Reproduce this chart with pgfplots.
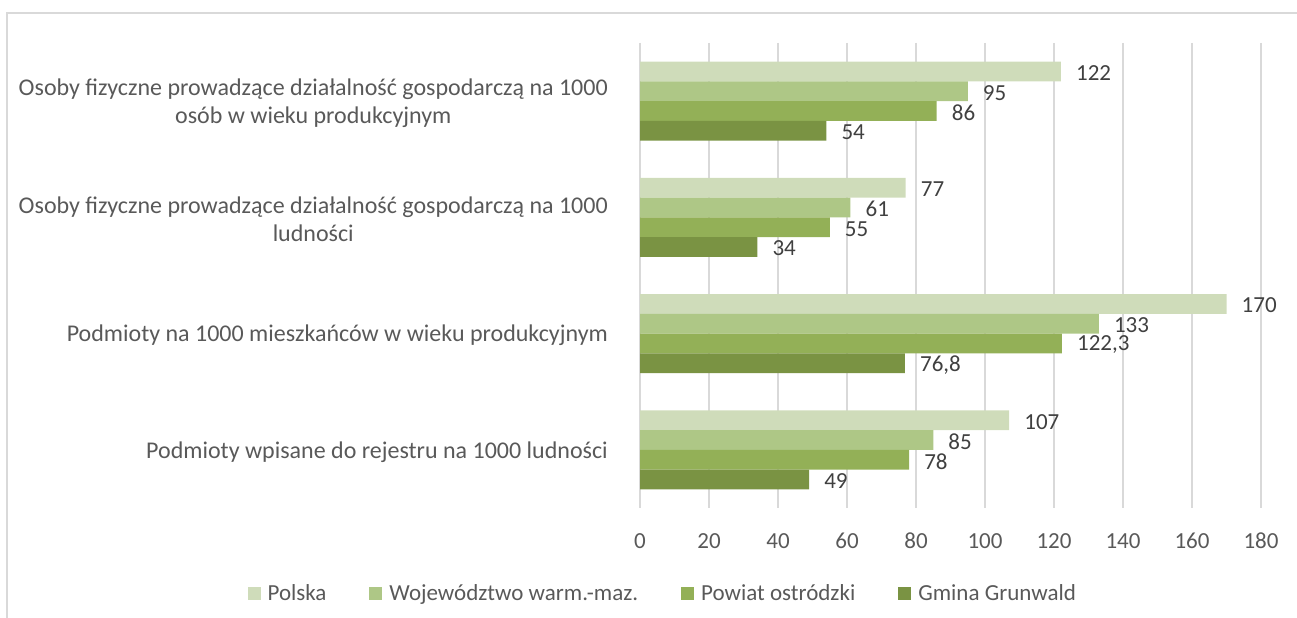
\documentclass[border=0pt]{standalone}
\usepackage{fontspec}
\setmainfont{Carlito}
\usepackage{pgfplots}
\pgfplotsset{compat=1.18}
\definecolor{cPol}{HTML}{CFDCBA}
\definecolor{cWoj}{HTML}{AEC786}
\definecolor{cPow}{HTML}{93B057}
\definecolor{cGm}{HTML}{7A9343}
\definecolor{gridc}{HTML}{D9D9D9}
\definecolor{txt}{HTML}{595959}
\definecolor{lab}{HTML}{404040}
\begin{document}
\begin{tikzpicture}[x=1bp,y=1bp]
\path[use as bounding box] (0,0) rectangle (1297,618);
\draw[gridc, line width=1.2bp] (7,-2) -- (7,605) -- (1299,605);
\begin{axis}[
  at={(640bp,110bp)}, anchor=south west,
  scale only axis, width=621bp, height=465bp,
  xbar, y dir=reverse, clip=false,
  enlargelimits=false,
  xmin=0, xmax=180, ymin=-0.5, ymax=3.5,
  xtick={0,20,...,180},
  ytick={0,1,2,3},
  yticklabels={{Osoby fizyczne prowadzące działalność gospodarczą na 1000\\osób w wieku produkcyjnym},
               {Osoby fizyczne prowadzące działalność gospodarczą na 1000\\ludności},
               {Podmioty na 1000 mieszkańców w wieku produkcyjnym},
               {Podmioty wpisane do rejestru na 1000 ludności}},
  axis line style={draw=none},
  major tick length=0pt,
  xmajorgrids, grid style={gridc, line width=1.4bp},
  /pgf/number format/assume math mode=true,
  ticklabel style={text=txt},
  xticklabel style={font=\fontsize{23bp}{28bp}\selectfont, inner sep=0pt, anchor=north, yshift=-25bp},
  yticklabel style={font=\fontsize{24bp}{28.5bp}\selectfont, inner sep=0pt, anchor=east, xshift=-32bp, yshift=-2bp, align=center},
  bar width=0.17,
  nodes near coords,
  nodes near coords style={anchor=west, inner sep=0pt, xshift=15bp, yshift=-1.5bp,
     text=lab, font=\fontsize{23bp}{28bp}\selectfont,
     /pgf/number format/assume math mode=true, /pgf/number format/use comma},
  legend columns=4,
  legend image code/.code={\fill[#1] (0bp,-6.5bp) rectangle (13bp,6.5bp);},
  legend style={at={(0.035,-0.183)}, anchor=center, draw=none, fill=none,
     font=\fontsize{23bp}{28bp}\selectfont, text=txt,
     nodes={inner sep=0pt}, cells={anchor=west},
     /tikz/every odd column/.append style={column sep=7bp},
     /tikz/every even column/.append style={column sep=43bp}},
]
\addplot[fill=cPol, draw=none, bar shift=-0.255] coordinates {(122,0) (77,1) (170,2) (107,3)};
\addplot[fill=cWoj, draw=none, bar shift=-0.085] coordinates {(95,0) (61,1) (133,2) (85,3)};
\addplot[fill=cPow, draw=none, bar shift=0.085] coordinates {(86,0) (55,1) (122.3,2) (78,3)};
\addplot[fill=cGm, draw=none, bar shift=0.255] coordinates {(54,0) (34,1) (76.8,2) (49,3)};
\legend{Polska, Województwo warm.-maz., Powiat ostródzki, Gmina Grunwald}
\end{axis}
\end{tikzpicture}
\end{document}
